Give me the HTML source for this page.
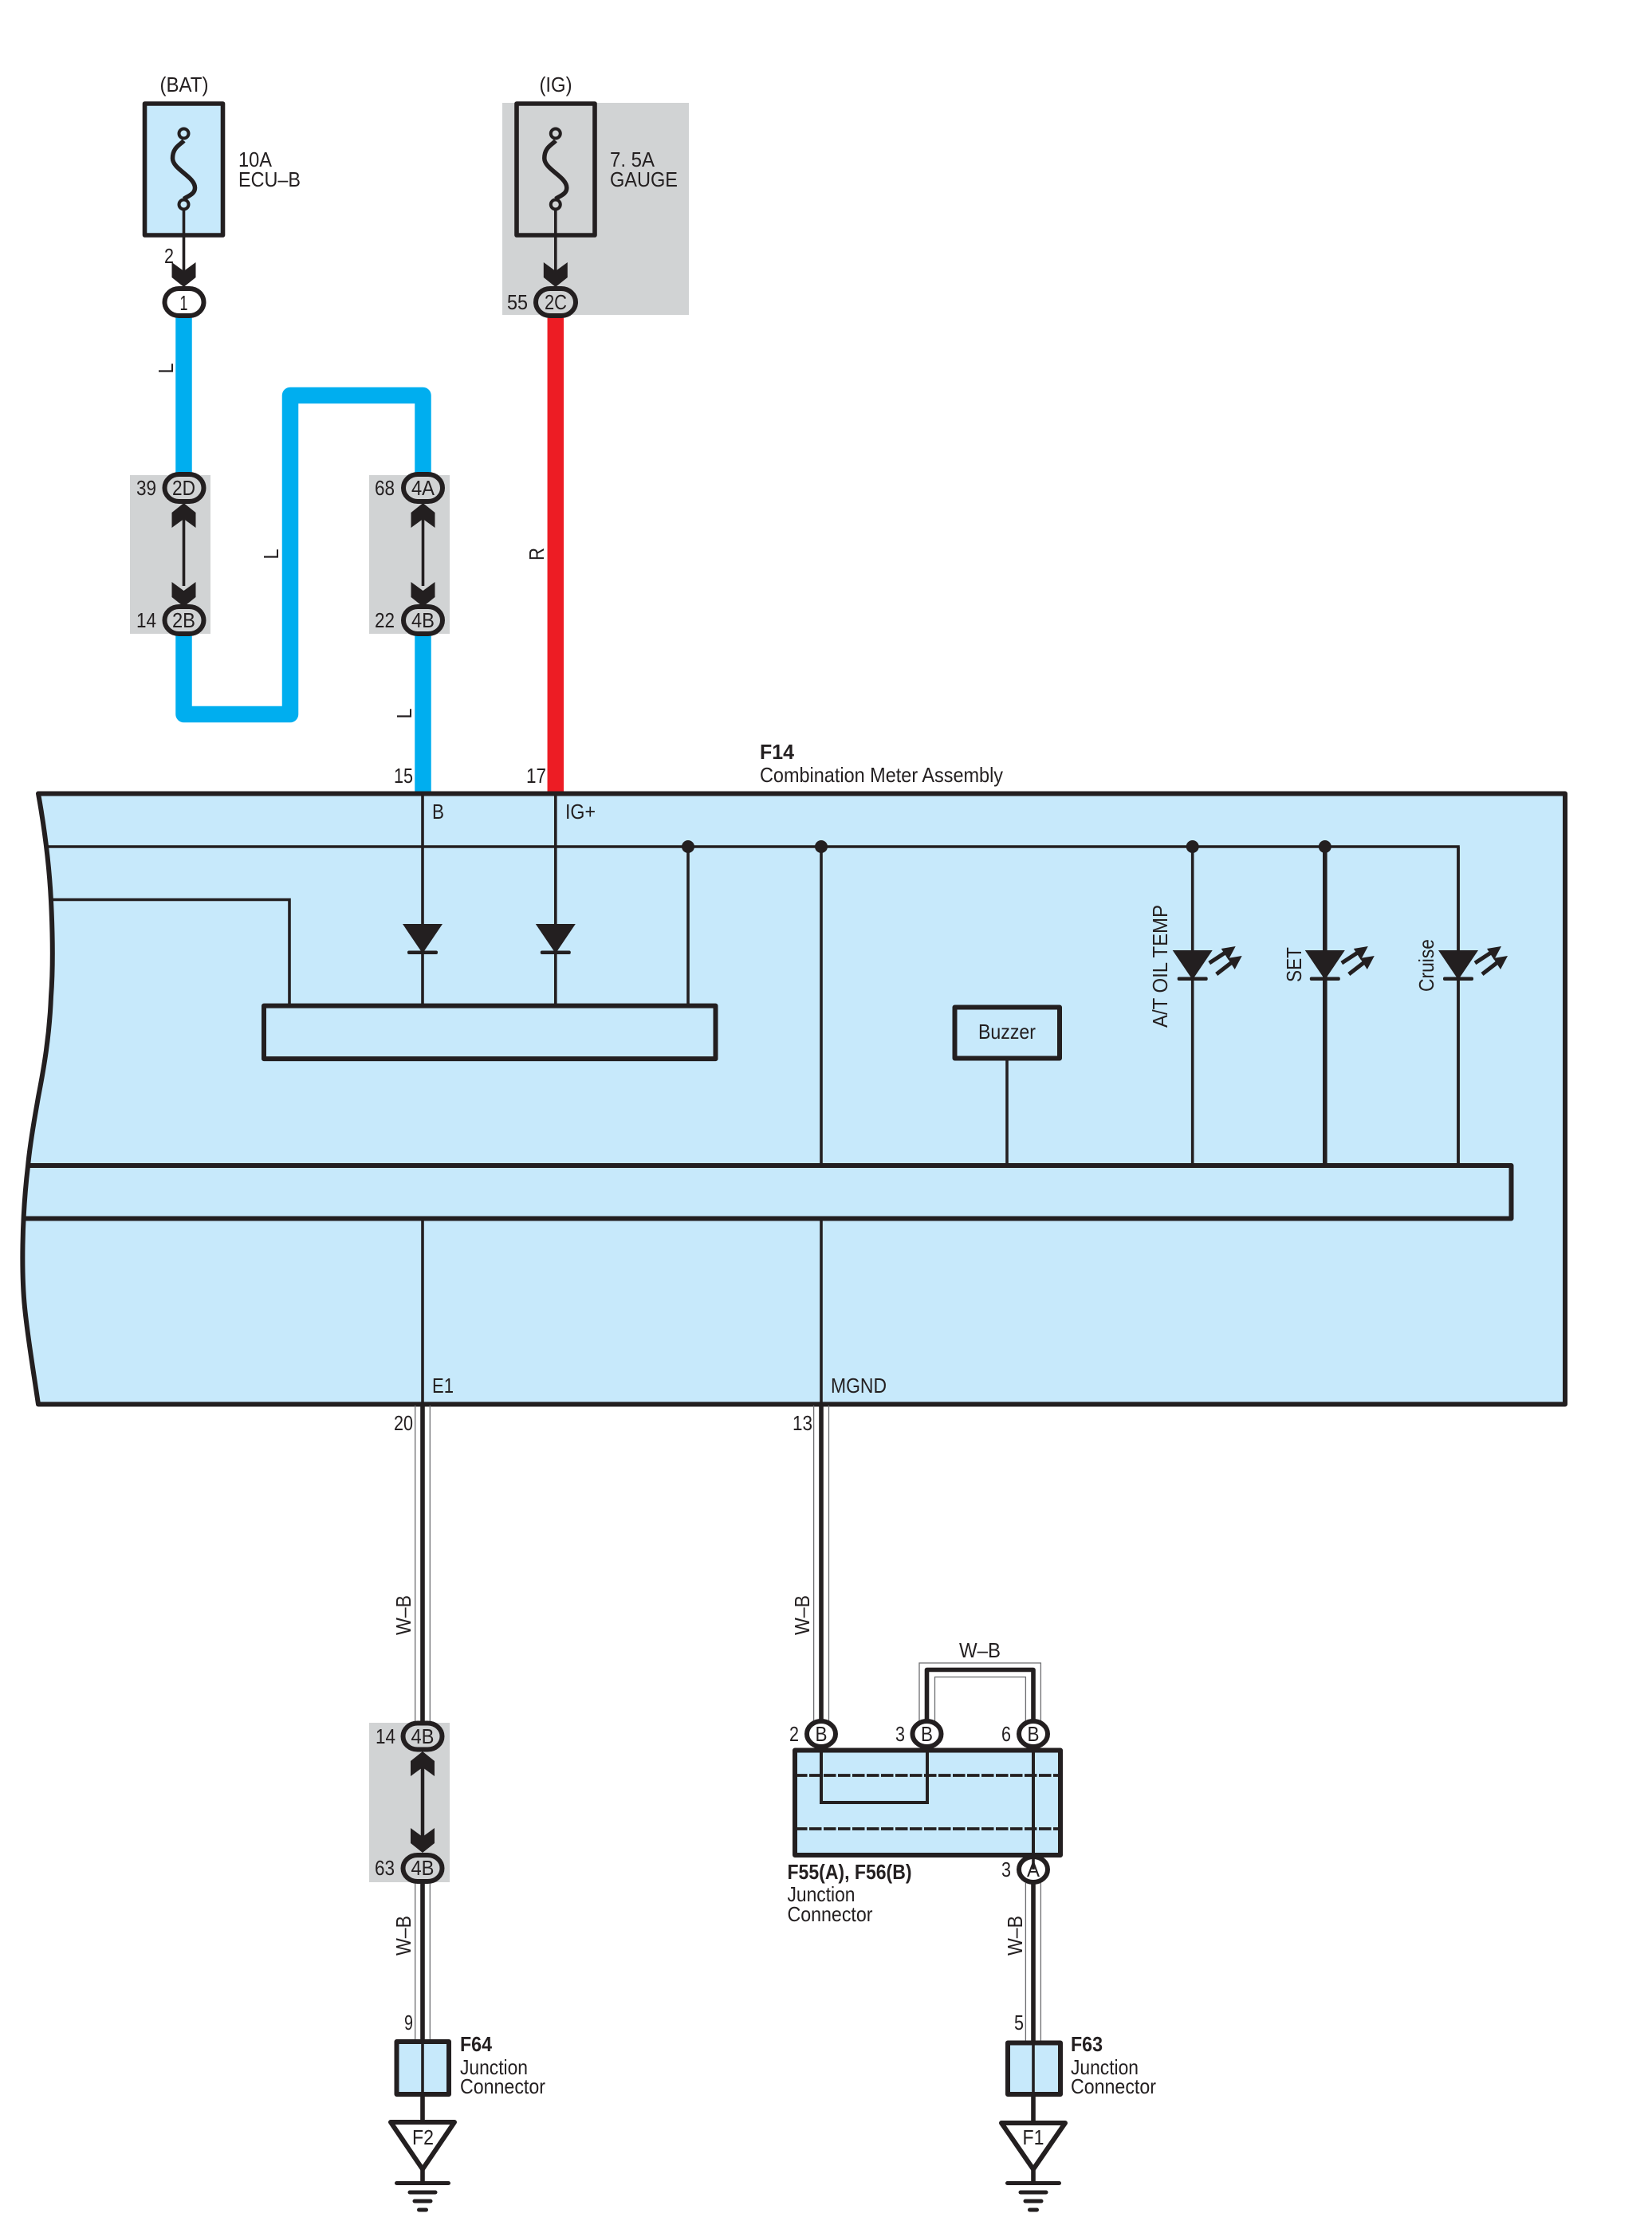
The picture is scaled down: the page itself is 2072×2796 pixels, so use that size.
<!DOCTYPE html>
<html lang="en"><head><meta charset="utf-8"><title>Combination Meter Wiring Diagram</title>
<style>
html,body{margin:0;padding:0;background:#fff}
svg{display:block}
text{font-family:"Liberation Sans",sans-serif;font-size:26px;fill:#231f20}
.b{font-weight:bold}
.w{fill:none;stroke:#231f20;stroke-width:3.6}
.t{fill:none;stroke:#231f20;stroke-width:5.6;stroke-linejoin:round}
.thin{fill:none;stroke:#6d6e71;stroke-width:1.3}
.c{stroke:#231f20;stroke-width:6}
</style></head><body>
<svg width="2072" height="2796" viewBox="0 0 2072 2796" xmlns="http://www.w3.org/2000/svg">
<defs>
<polygon id="chev" points="-15,-30 0,-19 15,-30 15,-11 0,1 -15,-11" fill="#231f20"/>
<g id="fuse">
<path d="M0 9 C-4 14 -14 17 -14 31 C-14 45 14 54 14 68 C14 76 6 78 0 82" fill="none" stroke="#231f20" stroke-width="5.500"/>
<circle cx="0" cy="0" r="6" fill="none" stroke="#231f20" stroke-width="4"/>
<circle cx="0" cy="89" r="6" fill="none" stroke="#231f20" stroke-width="4"/>
</g>
<g id="diode"><polygon points="-25,-1 25,-1 0,36" fill="#231f20"/><rect x="-19" y="32.500" width="38" height="4.500" rx="2" fill="#231f20"/></g>
<g id="rays">
<path d="M21 15 L44 0 M30 29 L52 12" stroke="#231f20" stroke-width="5" fill="none"/>
<polygon points="54,-6 36,-3 45,11" fill="#231f20"/><polygon points="62,6 44,9 53,23" fill="#231f20"/>
</g>
<g id="gnd" fill="#231f20">
<rect x="-35" y="0" width="70" height="5" rx="2.500"/><rect x="-18.500" y="11.500" width="37" height="5" rx="2.500"/><rect x="-12.500" y="22.500" width="25" height="5" rx="2.500"/><rect x="-7" y="33.500" width="14" height="5" rx="2.500"/>
</g>
</defs>

<!-- gray backgrounds -->
<rect x="630" y="129" width="234" height="266" fill="#d1d3d4"/>
<rect x="163" y="596" width="101" height="199" fill="#d1d3d4"/>
<rect x="463" y="596" width="101" height="199" fill="#d1d3d4"/>
<rect x="463" y="2161" width="101" height="200" fill="#d1d3d4"/>

<!-- fuses -->
<rect x="181.500" y="130" width="98" height="165" fill="#c7e9fb" stroke="#231f20" stroke-width="5.600" stroke-linejoin="round"/>
<rect x="648" y="130" width="98" height="165" fill="none" stroke="#231f20" stroke-width="5.600" stroke-linejoin="round"/>
<use href="#fuse" x="230.500" y="167.500"/>
<use href="#fuse" x="696.800" y="167.500"/>
<path class="w" d="M230.500 262V345 M696.800 262V345"/>
<text x="231" y="115" text-anchor="middle" textLength="61" lengthAdjust="spacingAndGlyphs">(BAT)</text>
<text x="697" y="115" text-anchor="middle" textLength="41" lengthAdjust="spacingAndGlyphs">(IG)</text>
<text x="299" y="209" textLength="42" lengthAdjust="spacingAndGlyphs">10A</text>
<text x="299" y="234" textLength="78" lengthAdjust="spacingAndGlyphs">ECU–B</text>
<text x="765" y="209" textLength="56" lengthAdjust="spacingAndGlyphs">7. 5A</text>
<text x="765" y="234" textLength="85" lengthAdjust="spacingAndGlyphs">GAUGE</text>
<use href="#chev" x="230.500" y="359"/>
<use href="#chev" x="696.800" y="359"/>
<text x="206" y="330" textLength="12" lengthAdjust="spacingAndGlyphs">2</text>

<!-- thick coloured wires -->
<path d="M230.500 398V600 M230.500 790V896H364V496H530.500V600 M530.500 790V1000" fill="none" stroke="#00aeef" stroke-width="20.500" stroke-linejoin="round"/>
<path d="M696.800 398V1000" fill="none" stroke="#ed1c24" stroke-width="20.500"/>

<!-- connectors top -->
<rect x="206.500" y="362" width="49" height="34" rx="18" fill="#fff" class="c"/>
<text x="230.500" y="389" text-anchor="middle" textLength="10" lengthAdjust="spacingAndGlyphs">1</text>
<rect x="672" y="362" width="50" height="34" rx="18" fill="#d1d3d4" class="c"/>
<text x="697" y="388" text-anchor="middle" textLength="28" lengthAdjust="spacingAndGlyphs">2C</text>
<text x="636" y="388" textLength="26" lengthAdjust="spacingAndGlyphs">55</text>

<rect x="206.500" y="595" width="49" height="34" rx="18" fill="#d1d3d4" class="c"/>
<rect x="206.500" y="761" width="49" height="34" rx="18" fill="#d1d3d4" class="c"/>
<rect x="506" y="595" width="49" height="34" rx="18" fill="#d1d3d4" class="c"/>
<rect x="506" y="761" width="49" height="34" rx="18" fill="#d1d3d4" class="c"/>
<text x="230.500" y="621" text-anchor="middle" textLength="29" lengthAdjust="spacingAndGlyphs">2D</text>
<text x="230.500" y="787" text-anchor="middle" textLength="29" lengthAdjust="spacingAndGlyphs">2B</text>
<text x="530.500" y="621" text-anchor="middle" textLength="29" lengthAdjust="spacingAndGlyphs">4A</text>
<text x="530.500" y="787" text-anchor="middle" textLength="29" lengthAdjust="spacingAndGlyphs">4B</text>
<text x="171" y="621" textLength="25" lengthAdjust="spacingAndGlyphs">39</text>
<text x="171" y="787" textLength="25" lengthAdjust="spacingAndGlyphs">14</text>
<text x="470" y="621" textLength="25" lengthAdjust="spacingAndGlyphs">68</text>
<text x="470" y="787" textLength="25" lengthAdjust="spacingAndGlyphs">22</text>
<path class="w" d="M230.500 640V735 M530.500 640V735"/>
<use href="#chev" transform="translate(230.500 632) scale(1 -1)"/>
<use href="#chev" x="230.500" y="760"/>
<use href="#chev" transform="translate(530.500 632) scale(1 -1)"/>
<use href="#chev" x="530.500" y="760"/>

<text transform="translate(217 462) rotate(-90)" text-anchor="middle" textLength="13" lengthAdjust="spacingAndGlyphs">L</text>
<text transform="translate(349 695) rotate(-90)" text-anchor="middle" textLength="13" lengthAdjust="spacingAndGlyphs">L</text>
<text transform="translate(516 895) rotate(-90)" text-anchor="middle" textLength="13" lengthAdjust="spacingAndGlyphs">L</text>
<text transform="translate(682 695) rotate(-90)" text-anchor="middle" textLength="16" lengthAdjust="spacingAndGlyphs">R</text>

<!-- F14 -->
<text class="b" x="953" y="952" textLength="43" lengthAdjust="spacingAndGlyphs">F14</text>
<text x="953" y="981" textLength="305" lengthAdjust="spacingAndGlyphs">Combination Meter Assembly</text>
<text x="494" y="982" textLength="24" lengthAdjust="spacingAndGlyphs">15</text>
<text x="660" y="982" textLength="25" lengthAdjust="spacingAndGlyphs">17</text>
<path d="M48 995.500 H1963 V1761.500 H48 C42 1720 35 1680 31 1640 C27 1600 27 1530 35 1463 C38 1430 44 1400 48 1376 C55 1340 62 1300 64 1250 C67 1210 66 1170 64 1130 C62 1090 56 1040 48 995.500 Z" fill="#c7e9fb" stroke="#231f20" stroke-width="6" stroke-linejoin="round"/>

<path class="w" d="M60 1062H1829V1461.500"/>
<path class="w" d="M66 1128.500H363V1262"/>
<path class="w" d="M530 995V1160 M530 1194V1262 M696.800 995V1160 M696.800 1194V1262 M863 1062V1262"/>
<use href="#diode" x="530" y="1160"/>
<use href="#diode" x="696.800" y="1160"/>
<rect x="331" y="1261.600" width="566.500" height="66.500" fill="none" stroke="#231f20" stroke-width="6" stroke-linejoin="round"/>
<path class="w" d="M1030 1062V1461.500 M1030 1528V1761 M530 1528V1761 M1263 1329V1461.500 M1495.700 1062V1461.500 M1829 1062V1461.500"/>
<path class="t" d="M1661.800 1062V1461.500"/>
<circle cx="863" cy="1062" r="8" fill="#231f20"/>
<circle cx="1030" cy="1062" r="8" fill="#231f20"/>
<circle cx="1495.700" cy="1062" r="8" fill="#231f20"/>
<circle cx="1661.800" cy="1062" r="8" fill="#231f20"/>

<use href="#diode" x="1495.700" y="1193"/><use href="#rays" x="1495.700" y="1193"/>
<use href="#diode" x="1661.800" y="1193"/><use href="#rays" x="1661.800" y="1193"/>
<use href="#diode" x="1829" y="1193"/><use href="#rays" x="1829" y="1193"/>
<text transform="translate(1464 1212) rotate(-90)" text-anchor="middle" textLength="154" lengthAdjust="spacingAndGlyphs">A/T OIL TEMP</text>
<text transform="translate(1632 1210) rotate(-90)" text-anchor="middle" textLength="44" lengthAdjust="spacingAndGlyphs">SET</text>
<text transform="translate(1798 1211) rotate(-90)" text-anchor="middle" textLength="66" lengthAdjust="spacingAndGlyphs">Cruise</text>

<rect x="1197.500" y="1263.500" width="131.500" height="64" fill="#c7e9fb" stroke="#231f20" stroke-width="6" stroke-linejoin="round"/>
<text x="1263" y="1303" text-anchor="middle" textLength="72" lengthAdjust="spacingAndGlyphs">Buzzer</text>

<path d="M35 1462H1895.500V1528.500H30" fill="none" stroke="#231f20" stroke-width="6" stroke-linejoin="round"/>

<text x="542" y="1027" textLength="15" lengthAdjust="spacingAndGlyphs">B</text>
<text x="709" y="1027" textLength="38" lengthAdjust="spacingAndGlyphs">IG+</text>
<text x="542" y="1747" textLength="27" lengthAdjust="spacingAndGlyphs">E1</text>
<text x="1042" y="1747" textLength="70" lengthAdjust="spacingAndGlyphs">MGND</text>
<text x="494" y="1794" textLength="24" lengthAdjust="spacingAndGlyphs">20</text>
<text x="994" y="1794" textLength="25" lengthAdjust="spacingAndGlyphs">13</text>

<!-- lower left wire -->
<path class="thin" d="M520.700 1763V2160 M539.300 1763V2160 M520.700 2362V2560 M539.300 2362V2560"/>
<path class="t" d="M530 1761V2160 M530 2362V2722"/>
<path class="w" style="stroke-width:4.500" d="M530 2210V2310"/>
<text transform="translate(515 2026) rotate(-90)" text-anchor="middle" textLength="50" lengthAdjust="spacingAndGlyphs">W–B</text>
<text transform="translate(515 2428) rotate(-90)" text-anchor="middle" textLength="50" lengthAdjust="spacingAndGlyphs">W–B</text>
<rect x="505.500" y="2161.500" width="49" height="33" rx="18" fill="#d1d3d4" class="c"/>
<rect x="505.500" y="2327" width="49" height="33" rx="18" fill="#d1d3d4" class="c"/>
<text x="530" y="2187" text-anchor="middle" textLength="29" lengthAdjust="spacingAndGlyphs">4B</text>
<text x="530" y="2352" text-anchor="middle" textLength="29" lengthAdjust="spacingAndGlyphs">4B</text>
<text x="471" y="2187" textLength="25" lengthAdjust="spacingAndGlyphs">14</text>
<text x="470" y="2352" textLength="25" lengthAdjust="spacingAndGlyphs">63</text>
<use href="#chev" transform="translate(530 2198) scale(1 -1)"/>
<use href="#chev" x="530" y="2323"/>
<text x="507" y="2546" textLength="11" lengthAdjust="spacingAndGlyphs">9</text>
<rect x="497.500" y="2561" width="65.500" height="66" fill="#c7e9fb" stroke="#231f20" stroke-width="6" stroke-linejoin="round"/>
<path class="w" d="M530 2561V2627"/>
<text class="b" x="577" y="2573" textLength="40" lengthAdjust="spacingAndGlyphs">F64</text>
<text x="577" y="2602" textLength="85" lengthAdjust="spacingAndGlyphs">Junction</text>
<text x="577" y="2626" textLength="107" lengthAdjust="spacingAndGlyphs">Connector</text>
<path d="M490 2662H570L530 2721Z" fill="#fff" stroke="#231f20" stroke-width="6" stroke-linejoin="round"/>
<text x="530.500" y="2690" text-anchor="middle" textLength="27" lengthAdjust="spacingAndGlyphs">F2</text>
<path class="t" d="M530 2720V2738"/>
<use href="#gnd" x="530" y="2736"/>

<!-- lower right wires -->
<path class="thin" d="M1020.600 1763V2158 M1039.500 1763V2158"/>
<path class="t" d="M1030 1761V2158"/>
<text transform="translate(1015 2026) rotate(-90)" text-anchor="middle" textLength="50" lengthAdjust="spacingAndGlyphs">W–B</text>

<path class="thin" d="M1153 2160V2086H1305.400V2160 M1172.500 2160V2103.600H1286.400V2160"/>
<path class="t" d="M1162.500 2160V2094.500H1296V2160"/>
<text x="1229" y="2079" text-anchor="middle" textLength="52" lengthAdjust="spacingAndGlyphs">W–B</text>

<rect x="997" y="2195.500" width="333" height="131.500" fill="#c7e9fb" stroke="#231f20" stroke-width="6" stroke-linejoin="round"/>
<path d="M997 2227H1330 M997 2294H1330" fill="none" stroke="#231f20" stroke-width="3.800" stroke-dasharray="15.500 2.500"/>
<path class="w" style="stroke-width:4" d="M1030 2193V2261H1163V2193 M1296 2193V2329"/>

<ellipse cx="1030" cy="2175" rx="18" ry="16" fill="#fff" class="c"/>
<ellipse cx="1162.500" cy="2175" rx="18" ry="16" fill="#fff" class="c"/>
<ellipse cx="1296" cy="2175" rx="18" ry="16" fill="#fff" class="c"/>
<text x="1030" y="2184" text-anchor="middle" textLength="15" lengthAdjust="spacingAndGlyphs">B</text>
<text x="1162.500" y="2184" text-anchor="middle" textLength="15" lengthAdjust="spacingAndGlyphs">B</text>
<text x="1296" y="2184" text-anchor="middle" textLength="15" lengthAdjust="spacingAndGlyphs">B</text>
<text x="996" y="2184" text-anchor="middle" textLength="12" lengthAdjust="spacingAndGlyphs">2</text>
<text x="1129" y="2184" text-anchor="middle" textLength="12" lengthAdjust="spacingAndGlyphs">3</text>
<text x="1262" y="2184" text-anchor="middle" textLength="12" lengthAdjust="spacingAndGlyphs">6</text>

<path class="thin" d="M1286.400 2362V2562 M1305.400 2362V2562"/>
<path class="t" d="M1296 2362V2722"/>
<ellipse cx="1296" cy="2345" rx="18" ry="16" fill="#fff" class="c"/>
<path class="w" d="M1296 2329V2345"/>
<text x="1296" y="2354" text-anchor="middle" textLength="16" lengthAdjust="spacingAndGlyphs">A</text>
<text x="1262" y="2354" text-anchor="middle" textLength="12" lengthAdjust="spacingAndGlyphs">3</text>
<text class="b" x="987.500" y="2357" textLength="156" lengthAdjust="spacingAndGlyphs">F55(A), F56(B)</text>
<text x="987.500" y="2385" textLength="85" lengthAdjust="spacingAndGlyphs">Junction</text>
<text x="987.500" y="2410" textLength="107" lengthAdjust="spacingAndGlyphs">Connector</text>
<text transform="translate(1282 2428) rotate(-90)" text-anchor="middle" textLength="50" lengthAdjust="spacingAndGlyphs">W–B</text>
<text x="1278" y="2546" text-anchor="middle" textLength="12" lengthAdjust="spacingAndGlyphs">5</text>
<rect x="1264" y="2562.500" width="66" height="64.500" fill="#c7e9fb" stroke="#231f20" stroke-width="6" stroke-linejoin="round"/>
<path class="w" d="M1296 2562V2627"/>
<text class="b" x="1343" y="2573" textLength="40" lengthAdjust="spacingAndGlyphs">F63</text>
<text x="1343" y="2602" textLength="85" lengthAdjust="spacingAndGlyphs">Junction</text>
<text x="1343" y="2626" textLength="107" lengthAdjust="spacingAndGlyphs">Connector</text>
<path d="M1256 2663H1336L1296 2721Z" fill="#fff" stroke="#231f20" stroke-width="6" stroke-linejoin="round"/>
<text x="1296" y="2690" text-anchor="middle" textLength="27" lengthAdjust="spacingAndGlyphs">F1</text>
<path class="t" d="M1296 2720V2738"/>
<use href="#gnd" x="1296" y="2736"/>
</svg>
</body></html>
